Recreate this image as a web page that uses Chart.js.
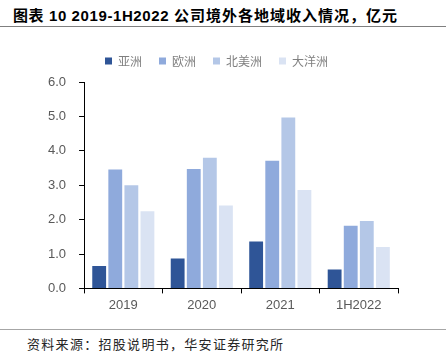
<!DOCTYPE html>
<html>
<head>
<meta charset="utf-8">
<script src="https://cdn.jsdelivr.net/npm/chart.js@4"></script>
<style>
  html, body { margin:0; padding:0; background:#fff; }
  body { width:446px; height:356px; position:relative; overflow:hidden; font-family:"Liberation Sans","Noto Sans CJK SC",sans-serif; }
  #title { position:absolute; left:13px; top:4px; font-size:15px; font-weight:bold; color:#000; white-space:nowrap; font-family:"Liberation Sans","Noto Sans CJK SC",sans-serif; }
  #title .a { letter-spacing:0.6px; }
  #title .b { letter-spacing:1px; }
  #line1 { position:absolute; left:0; top:26px; width:446px; height:1px; background:#7f7f7f; }
  #line2 { position:absolute; left:0; top:329px; width:446px; height:1px; background:#a6a6a6; }
  #source { position:absolute; left:27px; top:334px; font-size:13px; letter-spacing:1.3px; color:#262626; white-space:nowrap; font-family:"Noto Sans CJK SC",sans-serif; }
  #wrap { position:absolute; left:0; top:38px; width:446px; height:284px; }
</style>
</head>
<body>
<div id="title"><span class="a">图表 10 2019-1H2022 </span><span class="b">公司境外各地域收入情况，亿元</span></div>
<div id="line1"></div>
<div id="wrap"><canvas id="c"></canvas></div>
<div id="line2"></div>
<div id="source">资料来源：招股说明书，华安证券研究所</div>
<script>
const categories = ["2019", "2020", "2021", "1H2022"];
const seriesNames = ["亚洲", "欧洲", "北美洲", "大洋洲"];
const asia = [0.65, 0.87, 1.36, 0.55];
const europe = [3.46, 3.47, 3.71, 1.82];
const northAmerica = [3.00, 3.80, 4.97, 1.96];
const oceania = [2.24, 2.41, 2.86, 1.20];
const yTicks = [0, 1, 2, 3, 4, 5, 6];
const colors = ["#2F5597", "#8FAADC", "#B4C7E7", "#DAE3F3"];

const values = [asia, europe, northAmerica, oceania];
const legendGap = {
  id: 'legendGap',
  beforeInit(chart) {
    const orig = chart.legend.fit;
    chart.legend.fit = function () { orig.call(this); this.height += 5; };
  }
};
new Chart(document.getElementById('c'), {
  type: 'bar',
  data: {
    labels: categories,
    datasets: seriesNames.map((n, i) => ({
      label: n,
      data: values[i],
      backgroundColor: colors[i],
      borderColor: colors[i],
      borderWidth: 0,
      categoryPercentage: 0.82,
      barPercentage: 0.86
    }))
  },
  plugins: [legendGap],
  options: {
    responsive: true,
    maintainAspectRatio: false,
    animation: false,
    devicePixelRatio: 1,
    layout: { padding: { left: 35, right: 48, top: 0, bottom: 5 } },
    plugins: {
      tooltip: { enabled: false },
      legend: {
        position: 'top',
        labels: {
          boxWidth: 7, boxHeight: 7, padding: 17,
          color: '#808080',
          font: { size: 12, family: '"Noto Sans CJK SC", sans-serif' }
        }
      }
    },
    scales: {
      x: {
        grid: { display: true, offset: true, drawOnChartArea: false, drawTicks: true, tickLength: 5, color: '#000' },
        border: { display: true, color: '#000', width: 1 },
        ticks: { color: '#595959', font: { size: 13, family: '"Liberation Sans", Arial, sans-serif' }, padding: 4 }
      },
      y: {
        min: 0, max: 6,
        afterBuildTicks: (ax) => { ax.ticks = yTicks.map(v => ({ value: v })); },
        grid: { display: true, drawOnChartArea: false, drawTicks: true, tickLength: 5, color: '#000' },
        border: { display: true, color: '#000', width: 1 },
        ticks: {
          color: '#595959',
          font: { size: 13, family: '"Liberation Sans", Arial, sans-serif' },
          padding: 13,
          callback: (v) => Number(v).toFixed(1)
        }
      }
    }
  }
});
</script>
</body>
</html>
